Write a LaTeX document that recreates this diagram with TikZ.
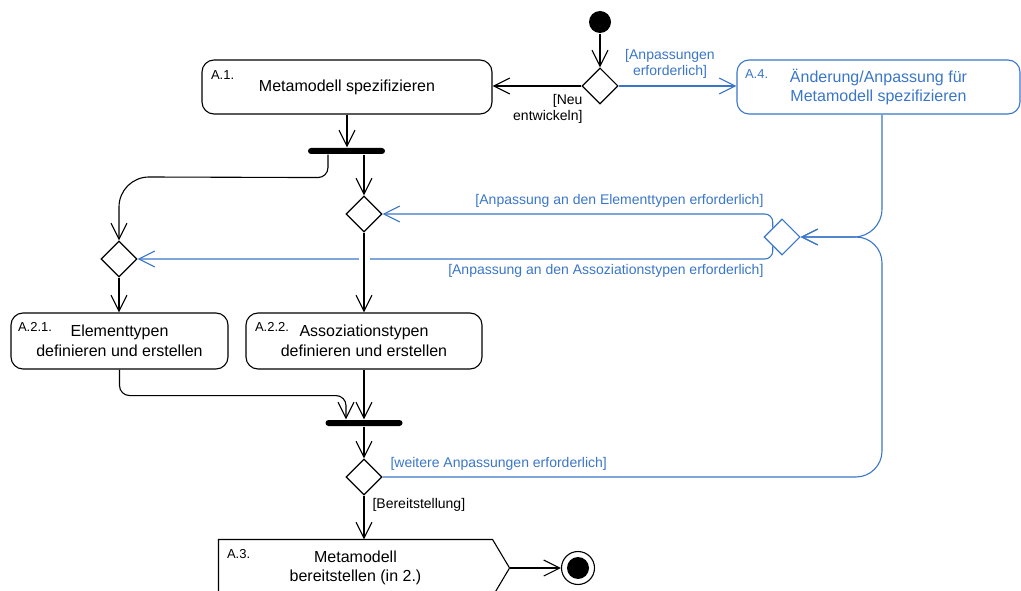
\documentclass[tikz,border=0pt]{standalone}
\usepackage{fontspec}
\setmainfont{Liberation Sans}
\usetikzlibrary{arrows.meta,shapes.geometric,calc}
\definecolor{umlblue}{RGB}{58,118,200}
\begin{document}
\begin{tikzpicture}[x=1pt,y=-1pt, line width=1.1pt,
  act/.style={draw, rounded corners=12pt, inner sep=0pt, align=center, font=\fontsize{16}{19.5}\selectfont},
  dec/.style={draw, diamond, aspect=1, minimum width=36pt, minimum height=36pt, inner sep=0pt},
  forkbar/.style={fill=black, rounded corners=3pt, minimum height=6pt, inner sep=0pt},
  arr/.style={-{Straight Barb[length=16pt,width=16pt]}},
  lbl/.style={font=\fontsize{14}{16.5}\selectfont, inner sep=0pt},
  tag/.style={font=\fontsize{13}{15}\selectfont, inner sep=0pt, anchor=west},
  bl/.style={draw=umlblue, text=umlblue}]
\useasboundingbox (0,0) rectangle (1021,591);

% nodes
\node[fill=black, circle, minimum size=22pt, inner sep=0pt] (start) at (600,22) {};
\node[dec] (D0) at (600,86) {};
\node[act, minimum width=290pt, minimum height=54pt] (A1) at (347,87) {Metamodell spezifizieren};
\node[act, bl, minimum width=283pt, minimum height=54pt] (A4) at (878.5,87) {\"Anderung/Anpassung f\"ur\\Metamodell spezifizieren};
\node[forkbar, minimum width=77pt] (F1) at (346.5,151) {};
\node[dec] (D1) at (119,259) {};
\node[dec] (D2) at (364,214) {};
\node[dec, bl] (D4) at (782,237) {};
\node[act, minimum width=217pt, minimum height=56pt] (A21) at (119.5,341) {Elementtypen\\definieren und erstellen};
\node[act, minimum width=236pt, minimum height=56pt] (A22) at (364,341) {Assoziationstypen\\definieren und erstellen};
\node[forkbar, minimum width=77pt] (J) at (364,423) {};
\node[dec] (D5) at (364,477) {};
\node[inner sep=0pt, align=center, font=\fontsize{16}{19.5}\selectfont, minimum width=273pt, minimum height=56pt] (A3) at (355.5,568) {Metamodell\\bereitstellen (in 2.)};
\draw (A3.north west) -- (A3.north east) -- ($(A3.east)+(17,0)$) coordinate (A3tip) -- (A3.south east) -- (A3.south west) -- cycle;
\node[circle, draw, minimum size=33pt, inner sep=0pt] (fin) at (578,568) {};
\node[circle, fill=black, minimum size=22pt, inner sep=0pt] (finIn) at (fin) {};

% tags
\node[tag] at ($(A1.north west)+(9,16)$) {A.1.};
\node[tag, text=umlblue] at ($(A4.north west)+(8,15)$) {A.4.};
\node[tag] at ($(A21.north west)+(7,15)$) {A.2.1.};
\node[tag] at ($(A22.north west)+(9,15)$) {A.2.2.};
\node[tag] at ($(A3.north west)+(8,15)$) {A.3.};

% blue connectors
\draw[bl, arr] (D0.east) -- (D0.east -| A4.west);
\coordinate (K) at ([xshift=3.5pt]A4.south |- D4.east);
\draw[bl, arr, rounded corners=28pt] ([xshift=3.5pt]A4.south) -- (K) -- (D4.east);
\draw[bl, arr, rounded corners=26pt] (D5.east) -| (K) -- (D4.east);
\draw[bl, arr, rounded corners=8pt] (D4.north west) |- (D2.east);
\draw[bl, arr, rounded corners=8pt] (D4.south west) |- (D1.east);
\node[fill=white, minimum width=11pt, minimum height=4pt, inner sep=0pt] (gap) at (D2 |- D1) {};

% black connectors
\draw[arr] (start) -- (D0.north);
\draw[arr] (D0.west) -- (D0.west -| A1.east);
\draw[arr] (A1.south) -- (A1.south |- F1.north);
\draw[arr] ([xshift=-18.5pt]F1.south) -- ++(0,13) arc[start angle=0, end angle=90, radius=10] -- (149,177) arc[start angle=270, end angle=180, radius=30] -- (D1.north);
\draw[arr] ([xshift=17.5pt]F1.south) -- (D2.north);
\draw[arr] (D1.south) -- (D1.south |- A21.north);
\draw[arr] (D2.south) -- (D2.south |- A22.north);
\draw[arr, rounded corners=10pt] (A21.south) -- ++(0,26) -| ([xshift=-18pt]J.north);
\draw[arr] (A22.south) -- (A22.south |- J.north);
\draw[arr] (J.south) -- (D5.north);
\draw[arr] (D5.south) -- (D5.south |- A3.north);
\draw[arr] (A3tip) -- (fin.west);

% guard labels
\node[lbl, align=right, anchor=east] at (583,109) {[Neu\\entwickeln]};
\node[lbl, align=center, text=umlblue] at (670,64) {[Anpassungen\\erforderlich]};
\node[lbl, anchor=east, text=umlblue] at (764,201) {[Anpassung an den Elementtypen erforderlich]};
\node[lbl, anchor=east, text=umlblue] at (764,271) {[Anpassung an den Assoziationstypen erforderlich]};
\node[lbl, anchor=west, text=umlblue] at (390,464) {[weitere Anpassungen erforderlich]};
\node[lbl, anchor=west] at (372,505) {[Bereitstellung]};
\end{tikzpicture}
\end{document}
